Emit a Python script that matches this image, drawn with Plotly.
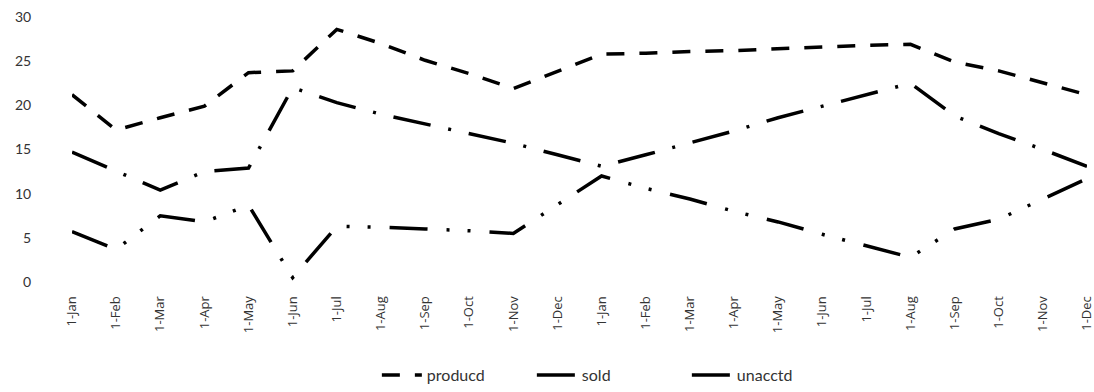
import plotly.graph_objects as go

months = ["1-Jan", "1-Feb", "1-Mar", "1-Apr", "1-May", "1-Jun", "1-Jul", "1-Aug",
          "1-Sep", "1-Oct", "1-Nov", "1-Dec"]
categories = [f"{m}" for m in months] + [f"{m} " for m in months]
tick_text = months + months

produced = [21.2, 17.2, 18.6, 19.9, 23.7, 23.9, 28.6, 27.0, 25.1, 23.6, 21.9, 23.8,
            25.8, 25.9, 26.1, 26.2, 26.4, 26.6, 26.8, 26.9, 24.9, 23.9, 22.5, 21.2]
sold = [14.7, 12.6, 10.4, 12.5, 12.9, 22.0, 20.3, 19.0, 17.9, 16.8, 15.7, 14.4,
        13.1, 14.4, 15.7, 17.1, 18.6, 19.9, 21.2, 22.5, 18.8, 16.8, 15.0, 13.1]
unacctd = [5.7, 3.7, 7.5, 6.8, 8.7, 0.5, 6.3, 6.2, 6.0, 5.8, 5.5, 8.7,
           12.0, 10.6, 9.4, 8.0, 6.8, 5.4, 4.1, 2.8, 6.0, 7.1, 9.4, 11.7]

series = [
    ("producd", produced, "18px,15px"),
    ("sold", sold, "38px,18px,3px,18px"),
    ("unacctd", unacctd, "38px,19px,3px,18px,3px,19px"),
]

fig = go.Figure()
for name, vals, dash in series:
    fig.add_trace(go.Scatter(
        x=categories, y=vals, name=name, mode="lines",
        line=dict(color="black", width=3.5, dash=dash),
    ))

font_family = "Lato, 'Open Sans', sans-serif"
text_color = "#333333"
fig.update_layout(
    width=1094, height=392,
    margin=dict(l=72, r=7, t=17, b=110),
    paper_bgcolor="white", plot_bgcolor="white",
    font=dict(family=font_family, size=14, color=text_color),
    showlegend=True,
    legend=dict(orientation="h", xref="container", yref="container",
                x=0.557, xanchor="center", y=0.043, yanchor="middle",
                font=dict(size=16, color=text_color), itemwidth=40,
                entrywidth=100),
    xaxis=dict(type="category", range=[0, 23], showgrid=False, zeroline=False,
               showline=False, tickangle=-90, ticks="outside", ticklen=8,
               tickcolor="rgba(0,0,0,0)", tickvals=categories, ticktext=tick_text,
               tickfont=dict(size=13, family="'Open Sans', sans-serif"),
               automargin=False, ticklabeloverflow="allow"),
    yaxis=dict(range=[0, 30], dtick=5, showgrid=False, zeroline=False,
               showline=False, ticks="outside", ticklen=37,
               tickcolor="rgba(0,0,0,0)", tickfont=dict(size=14), automargin=False,
               ticklabeloverflow="allow"),
)

fig.write_html(
    "out.html",
    config={"displayModeBar": False},
    post_script="document.body.style.margin='0';document.body.style.overflow='hidden';",
)
